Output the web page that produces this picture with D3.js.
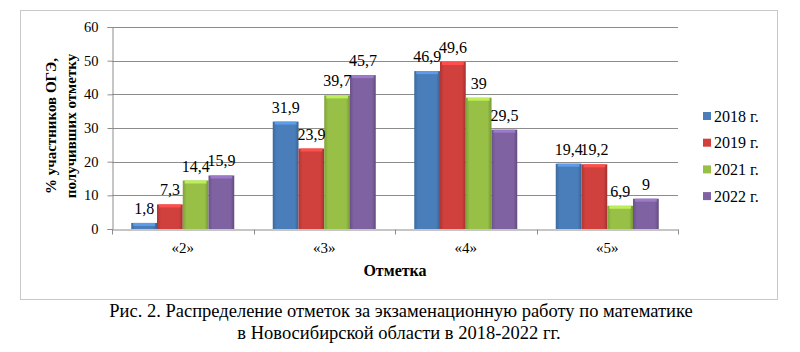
<!DOCTYPE html>
<html lang="ru">
  <head>
    <meta charset="utf-8"/>
    <script src="https://d3js.org/d3.v7.min.js"></script>
    <title>Распределение отметок</title>
    <style>
      body { margin: 0; background: #fff; }
      svg text { font-family: "Liberation Serif", "Times New Roman", serif !important; fill: #000; }
    </style>
  </head>
  <body>
    <svg id="chart"></svg>
  </body>

  <script>
    const categories = ["«2»", "«3»", "«4»", "«5»"];
    const years = ["2018 г.", "2019 г.", "2021 г.", "2022 г."];
    const s2018 = [1.8, 31.9, 46.9, 19.4];
    const s2019 = [7.3, 23.9, 49.6, 19.2];
    const s2021 = [14.4, 39.7, 39, 6.9];
    const s2022 = [15.9, 45.7, 29.5, 9];
    const yTicks = [0, 10, 20, 30, 40, 50, 60];
    const colors = ["#4a7ebb", "#d0403d", "#98c046", "#7f62a2"];

    const series = [s2018, s2019, s2021, s2022];
    const fmt = (v) => String(v).replace(".", ",");
    const serif = "Liberation Serif, Times New Roman, serif";

    const W = 800, H = 352;
    const plot = {left: 112, right: 678, top: 27, bottom: 229};

    const svg = d3.select("#chart")
      .attr("width", W)
      .attr("height", H)
      .attr("font-family", serif);

    // gradients for the bevelled bar look
    const defs = svg.append("defs");
    colors.forEach((c, i) => {
      const g = defs.append("linearGradient")
        .attr("id", "grad" + i)
        .attr("x1", "0").attr("x2", "1").attr("y1", "0").attr("y2", "0");
      g.append("stop").attr("offset", "0%").attr("stop-color", d3.color(c).darker(0.5));
      g.append("stop").attr("offset", "15%").attr("stop-color", c);
      g.append("stop").attr("offset", "85%").attr("stop-color", c);
      g.append("stop").attr("offset", "100%").attr("stop-color", d3.color(c).darker(0.7));
    });

    // outer frame
    svg.append("rect")
      .attr("x", 20.5).attr("y", 10.5)
      .attr("width", 757).attr("height", 289)
      .attr("fill", "none")
      .attr("stroke", "#c8c8c8");

    const x0 = d3.scaleBand()
      .domain(categories)
      .range([plot.left, plot.right]);

    const x1 = d3.scaleBand()
      .domain(d3.range(years.length))
      .range([0, 103])
      .padding(0);

    const y = d3.scaleLinear()
      .domain([0, 60])
      .range([plot.bottom, plot.top]);

    // gridlines
    svg.append("g")
      .selectAll("line")
      .data(yTicks.slice(1))
      .join("line")
        .attr("x1", plot.left).attr("x2", plot.right)
        .attr("y1", (d) => Math.round(y(d)) + 0.5)
        .attr("y2", (d) => Math.round(y(d)) + 0.5)
        .attr("stroke", "#8c8c8c");

    // y axis
    const yAxis = svg.append("g")
      .attr("transform", "translate(" + (plot.left + 0.5) + ",0)")
      .call(d3.axisLeft(y).tickValues(yTicks).tickSize(5).tickPadding(9));
    yAxis.attr("font-family", serif);
    yAxis.select(".domain").attr("stroke", "#8c8c8c");
    yAxis.selectAll(".tick line").attr("stroke", "#8c8c8c");
    yAxis.selectAll("text")
      .style("font-size", "14.5px");

    // x axis
    const xAxis = svg.append("g")
      .attr("transform", "translate(0," + (Math.round(y(0)) + 0.5) + ")")
      .call(d3.axisBottom(x0).tickSize(0).tickPadding(13));
    xAxis.attr("font-family", serif);
    xAxis.select(".domain").attr("stroke", "#8c8c8c");
    xAxis.selectAll("text")
      .style("font-size", "15px");
    xAxis.selectAll(".sep")
      .data(categories.map((c) => x0(c)).concat([plot.right]))
      .join("line")
        .attr("class", "sep")
        .attr("x1", (d) => Math.round(d) + 0.5)
        .attr("x2", (d) => Math.round(d) + 0.5)
        .attr("y1", 0).attr("y2", 5)
        .attr("stroke", "#8c8c8c");

    // bars
    const groupOffset = (x0.bandwidth() - 103) / 2;
    const groups = svg.append("g")
      .selectAll("g")
      .data(categories)
      .join("g")
        .attr("transform", (d) => "translate(" + (x0(d) + groupOffset) + ",0)");

    groups.selectAll("rect")
      .data((d, ci) => series.map((s, si) => ({si: si, v: s[ci]})))
      .join("rect")
        .attr("x", (d) => x1(d.si))
        .attr("y", (d) => y(d.v))
        .attr("width", x1.bandwidth())
        .attr("height", (d) => y(0) - y(d.v))
        .attr("fill", (d) => "url(#grad" + d.si + ")");

    // highlight strip on top of each bar
    groups.selectAll(".cap")
      .data((d, ci) => series.map((s, si) => ({si: si, v: s[ci]})))
      .join("rect")
        .attr("class", "cap")
        .attr("x", (d) => x1(d.si) + 2)
        .attr("y", (d) => y(d.v))
        .attr("width", x1.bandwidth() - 4)
        .attr("height", (d) => Math.min(3, y(0) - y(d.v)))
        .attr("fill", (d) => d3.color(colors[d.si]).brighter(0.6));

    groups.selectAll(".val")
      .data((d, ci) => series.map((s, si) => ({si: si, v: s[ci]})))
      .join("text")
        .attr("class", "val")
        .attr("x", (d) => x1(d.si) + x1.bandwidth() / 2)
        .attr("y", (d) => y(d.v) - 9)
        .attr("text-anchor", "middle")
        .style("font-size", "16px")
        .text((d) => fmt(d.v));

    // axis titles
    svg.append("text")
      .attr("x", (plot.left + plot.right) / 2)
      .attr("y", 276)
      .attr("text-anchor", "middle")
      .style("font-size", "16px")
      .style("font-weight", "bold")
      .text("Отметка");

    const yTitle = svg.append("text")
      .attr("transform", "translate(0,126) rotate(-90)")
      .attr("text-anchor", "middle")
      .style("font-size", "15px")
      .style("font-weight", "bold");
    yTitle.append("tspan").attr("x", 0).attr("y", 56).text("% участников ОГЭ,");
    yTitle.append("tspan").attr("x", 0).attr("y", 76).text("получивших отметку");

    // legend
    const legend = svg.append("g")
      .selectAll("g")
      .data(years)
      .join("g")
        .attr("transform", (d, i) => "translate(703," + (116 + i * 26.7) + ")");
    legend.append("rect")
      .attr("x", 0).attr("y", -4)
      .attr("width", 8).attr("height", 8)
      .attr("fill", (d, i) => colors[i]);
    legend.append("text")
      .attr("x", 11).attr("y", 0)
      .attr("dy", "0.35em")
      .style("font-size", "16px")
      .text((d) => d);

    // caption
    const caption = svg.append("text")
      .attr("text-anchor", "middle")
      .style("font-size", "18.5px");
    caption.append("tspan").attr("x", 401).attr("y", 317)
      .text("Рис. 2. Распределение отметок за экзаменационную работу по математике");
    caption.append("tspan").attr("x", 399).attr("y", 339)
      .text("в Новосибирской области в 2018-2022 гг.");
  </script>
</html>
